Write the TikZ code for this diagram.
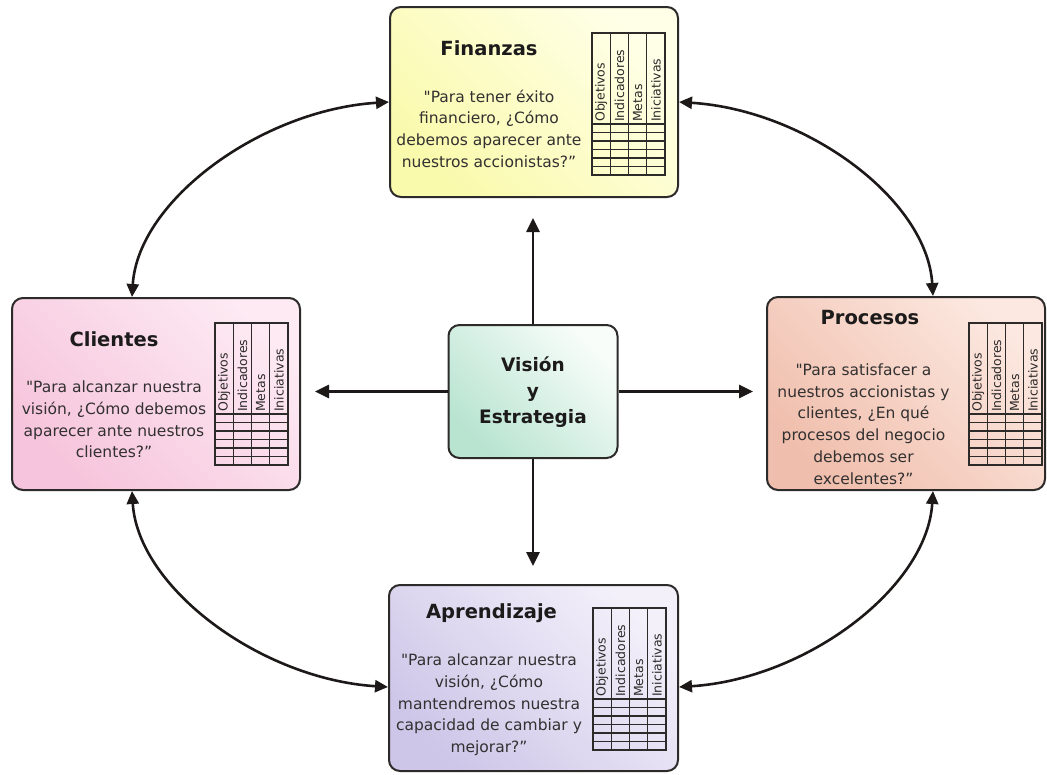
\documentclass[tikz,border=0pt]{standalone}
\usepackage{fontspec}
\setmainfont{DejaVu Sans}
\usetikzlibrary{arrows.meta,calc}
\definecolor{finL}{RGB}{250,250,172}
\definecolor{finR}{RGB}{255,255,232}
\definecolor{cliL}{RGB}{246,196,220}
\definecolor{cliR}{RGB}{253,234,243}
\definecolor{proL}{RGB}{240,190,172}
\definecolor{proR}{RGB}{252,232,224}
\definecolor{aprL}{RGB}{206,198,232}
\definecolor{aprR}{RGB}{243,240,250}
\definecolor{visL}{RGB}{184,228,208}
\definecolor{visR}{RGB}{248,253,250}
\definecolor{edgec}{RGB}{45,42,42}
\definecolor{txtc}{RGB}{50,48,48}
\definecolor{ttlc}{RGB}{28,26,26}
\definecolor{arrc}{RGB}{30,25,25}
\begin{document}
\begin{tikzpicture}[x=1pt,y=-1pt,
  box/.style={draw=edgec, line width=2pt, rounded corners=11pt, inner sep=0pt},
  ttl/.style={font=\bfseries\fontsize{19.5}{22}\selectfont, text=ttlc, inner sep=0pt, anchor=base},
  body/.style={font=\fontsize{15.5}{21.7}\selectfont, text=txtc, align=center, inner sep=0pt},
  arr/.style={draw=arrc, line width=2.6pt, -{Triangle[length=14pt,width=13pt]}},
  darr/.style={draw=arrc, line width=2.6pt, {Triangle[length=13pt,width=12pt]}-{Triangle[length=13pt,width=12pt]}},
  tabline/.style={draw=edgec, line width=1.2pt},
  collab/.style={rotate=90, anchor=west, inner sep=0pt, font=\fontsize{12.5}{14}\selectfont, text=edgec},
  bsct/.pic={
    \draw[tabline] (0,0) rectangle (73,142);
    \foreach \xx in {18.25,36.5,54.75} \draw[tabline] (\xx,0) -- (\xx,142);
    \foreach \yy in {91,99.5,108,116.5,125,133.5} \draw[tabline] (0,\yy) -- (73,\yy);
    \node[collab] (-obj) at (9.1,89) {Objetivos};
    \node[collab] (-ind) at (27.4,89) {Indicadores};
    \node[collab] (-met) at (45.6,89) {Metas};
    \node[collab] (-ini) at (63.9,89) {Iniciativas};
  }
]
\useasboundingbox (0,0) rectangle (1047,774);

% boxes
\node[box, minimum width=288pt, minimum height=190pt, top color=finR, bottom color=finL, shading angle=-45] (fin) at (534,102) {};
\node[box, minimum width=288pt, minimum height=192pt, top color=cliR, bottom color=cliL, shading angle=-45] (cli) at (156,394) {};
\node[box, minimum width=278pt, minimum height=193pt, top color=proR, bottom color=proL, shading angle=-45] (pro) at (906,393.5) {};
\node[box, minimum width=289pt, minimum height=186pt, top color=aprR, bottom color=aprL, shading angle=-45] (apr) at (533.5,678) {};
\node[box, minimum width=169pt, minimum height=133pt, top color=visR, bottom color=visL, shading angle=-45] (vis) at (533,391.5) {};

% titles
\node[ttl] (fint) at (489,55) {Finanzas};
\node[ttl] (clit) at (114,346) {Clientes};
\node[ttl] (prot) at (870,324.3) {Procesos};
\node[ttl] (aprt) at (491.5,618.3) {Aprendizaje};

% questions
\node[body] (finq) at (489,128.5) {\textquotedbl Para tener éxito\\financiero, ¿Cómo\\debemos aparecer ante\\nuestros accionistas?”};
\node[body] (cliq) at (114,419.5) {\textquotedbl Para alcanzar nuestra\\visión, ¿Cómo debemos\\aparecer ante nuestros\\clientes?”};
\node[body] (proq) at (863.5,424) {\textquotedbl Para satisfacer a\\nuestros accionistas y\\clientes, ¿En qué\\procesos del negocio\\debemos ser\\excelentes?”};
\node[body] (aprq) at (489,704.8) {\textquotedbl Para alcanzar nuestra\\visión, ¿Cómo\\mantendremos nuestra\\capacidad de cambiar y\\mejorar?”};

% centre text
\node[font=\bfseries\fontsize{18.5}{25.7}\selectfont, text=ttlc, align=center, inner sep=0pt] (vist) at (533,392.2) {Visión\\y\\Estrategia};

% tables
\pic (tfin) at (592,33) {bsct};
\pic (tcli) at (215,323) {bsct};
\pic (tpro) at (969,323) {bsct};
\pic (tapr) at (593,608) {bsct};

% straight arrows
\draw[arr, shorten >=20pt] (vis.north) -- (vis.north |- fin.south);
\draw[arr, shorten >=18pt] (vis.south) -- (vis.south |- apr.north);
\draw[arr, shorten >=14pt] (vis.west) -- (vis.west -| cli.east);
\draw[arr, shorten >=13pt] (vis.east) -- (vis.east -| pro.west);

% curved double arrows
\draw[darr] (fin.west) .. controls +(-127,8) and +(6,-97) .. ([xshift=-24pt]cli.north);
\draw[darr] (fin.east) .. controls +(127,8) and +(-6,-97) .. ([xshift=27pt]pro.north);
\draw[darr] ([xshift=-24pt]cli.south) .. controls +(6,97) and +(-127,-8) .. ([yshift=-9pt]apr.west);
\draw[darr] ([xshift=27pt]pro.south) .. controls +(-6,97) and +(127,-8) .. ([yshift=-9pt]apr.east);
\end{tikzpicture}
\end{document}
